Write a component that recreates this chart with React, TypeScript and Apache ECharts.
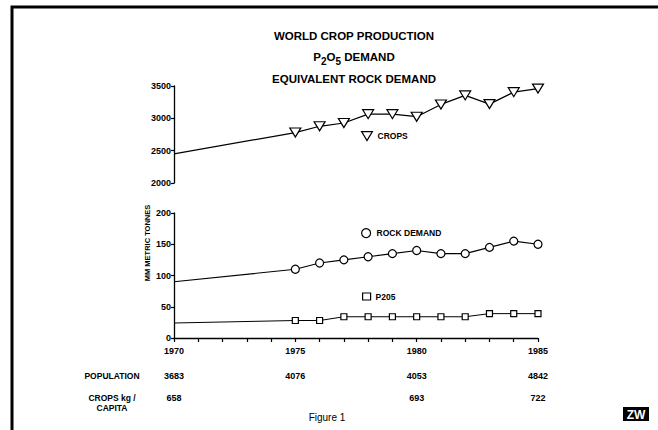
import React, { useEffect, useRef } from "react";
import * as echarts from "echarts";

const years = [1970, 1975, 1976, 1977, 1978, 1979, 1980, 1981, 1982, 1983, 1984, 1985];
const crops = [2450, 2780, 2877, 2928, 3065, 3065, 3025, 3215, 3355, 3220, 3405, 3460];
const rockDemand = [90, 110, 120, 125, 130, 135, 140, 135, 135, 145, 155, 150];
const p205 = [24, 28, 28, 34, 34, 34, 34, 34, 34, 39, 39, 39];

const upperTicks = { min: 2000, max: 3500, interval: 500 };
const lowerTicks = { min: 0, max: 200, interval: 50 };
const xRange = { min: 1970, max: 1985 };

const populationYears = [1970, 1975, 1980, 1985];
const population = [3683, 4076, 4053, 4842];
const cropsPerCapitaYears = [1970, 1980, 1985];
const cropsPerCapita = [658, 693, 722];

const TRI = "path://M0,0L12,0L6,10Z";
const FONT = "'Liberation Sans', Arial, sans-serif";

function toData(vals: number[]) {
  return years.map((y, i) =>
    i === 0 ? { value: [y, vals[i]], symbol: "none" } : { value: [y, vals[i]] }
  );
}

export default function App() {
  const ref = useRef<HTMLDivElement>(null);
  useEffect(() => {
    document.body.style.margin = "0";
    const chart = echarts.init(ref.current!, null, { renderer: "svg" });
    const axisCommon = {
      axisLine: { show: true, lineStyle: { color: "#000", width: 1.3 } },
      axisTick: { show: true, inside: false, length: 3, lineStyle: { color: "#000", width: 1.2 } },
      splitLine: { show: false },
      axisLabel: {
        color: "#000",
        fontSize: 9,
        fontWeight: "bold",
        fontFamily: FONT,
        margin: 3,
        formatter: (v: number) => String(v),
      },
    };
    const itemStyle = { color: "#fff", borderColor: "#000", borderWidth: 1.2 };
    const lineStyle = { color: "#000", width: 1.2 };
    const legendCommon = {
      orient: "horizontal",
      padding: 0,
      itemWidth: 11,
      itemHeight: 9,
      itemGap: 4,
      selectedMode: false,
      textStyle: { color: "#000", fontSize: 8.5, fontWeight: "bold", fontFamily: FONT },
      itemStyle: { color: "#fff", borderColor: "#000", borderWidth: 1.2 },
      lineStyle: { width: 0 },
    };
    chart.setOption({
      animation: false,
      backgroundColor: "#fff",
      grid: [
        { left: 174, right: 120, top: 86, height: 97 },
        { left: 174, right: 120, top: 213, height: 125 },
      ],
      xAxis: [
        { type: "value", gridIndex: 0, min: xRange.min, max: xRange.max, interval: 1, show: false },
        {
          type: "value",
          gridIndex: 1,
          min: xRange.min,
          max: xRange.max,
          interval: 1,
          ...axisCommon,
          axisTick: { show: true, length: 4, lineStyle: { color: "#000", width: 1.2 } },
          axisLabel: {
            ...axisCommon.axisLabel,
            margin: 8,
            formatter: (v: number) => (v % 5 === 0 ? String(v) : ""),
          },
        },
      ],
      yAxis: [
        { type: "value", gridIndex: 0, ...upperTicks, ...axisCommon },
        { type: "value", gridIndex: 1, ...lowerTicks, ...axisCommon },
      ],
      legend: [
        { ...legendCommon, left: 361, top: 131, data: [{ name: "CROPS", icon: TRI }] },
        { ...legendCommon, left: 361, top: 228, data: [{ name: "ROCK DEMAND", icon: "circle" }] },
        { ...legendCommon, left: 362, top: 292, itemWidth: 8, itemHeight: 7, data: [{ name: "P205", icon: "rect" }] },
      ],
      series: [
        {
          name: "CROPS",
          type: "line",
          xAxisIndex: 0,
          yAxisIndex: 0,
          data: toData(crops),
          symbol: TRI,
          symbolSize: [11, 9],
          symbolKeepAspect: false,
          itemStyle,
          lineStyle,
        },
        {
          name: "ROCK DEMAND",
          type: "line",
          xAxisIndex: 1,
          yAxisIndex: 1,
          data: toData(rockDemand),
          symbol: "circle",
          symbolSize: 8,
          itemStyle,
          lineStyle,
        },
        {
          name: "P205",
          type: "line",
          xAxisIndex: 1,
          yAxisIndex: 1,
          data: toData(p205),
          symbol: "rect",
          symbolSize: 6,
          itemStyle,
          lineStyle: { color: "#000", width: 1 },
        },
      ],
    });

    const px = (y: number) => chart.convertToPixel({ xAxisIndex: 1 }, y) as number;
    const textStyle = (t: string, x: number, y: number, extra: any = {}) => ({
      type: "text",
      x,
      y,
      style: {
        text: t,
        fill: "#000",
        font: `bold 9px ${FONT}`,
        align: "center",
        verticalAlign: "middle",
        ...extra,
      },
    });
    const graphics: any[] = [
      { type: "rect", shape: { x: 12, y: 7, width: 700, height: 500 }, style: { fill: "none", stroke: "#000", lineWidth: 3 } },
      textStyle("WORLD CROP PRODUCTION", 354, 36, { font: `bold 11.5px ${FONT}` }),
      {
        type: "text",
        x: 354,
        y: 57,
        style: {
          text: "{a|P}{s|2}{a|O}{s|5}{a| DEMAND}",
          align: "center",
          verticalAlign: "middle",
          rich: {
            a: { fill: "#000", font: `bold 11.5px ${FONT}`, lineHeight: 18, verticalAlign: "middle" },
            s: { fill: "#000", font: `bold 10px ${FONT}`, lineHeight: 18, verticalAlign: "bottom" },
          },
        },
      },
      textStyle("EQUIVALENT ROCK DEMAND", 354, 79, { font: `bold 11.5px ${FONT}` }),
      { type: "text", x: 147, y: 243, rotation: Math.PI / 2, style: { text: "MM METRIC TONNES", fill: "#000", font: `bold 7.5px ${FONT}`, align: "center", verticalAlign: "middle" } },
      textStyle("POPULATION", 112, 376, { font: `bold 8.5px ${FONT}` }),
      textStyle("CROPS kg /", 112, 398, { font: `bold 8.5px ${FONT}` }),
      textStyle("CAPITA", 112, 408, { font: `bold 8.5px ${FONT}` }),
      textStyle("Figure 1", 327, 417, { font: `10px ${FONT}` }),
      { type: "rect", shape: { x: 623, y: 407, width: 26, height: 14 }, style: { fill: "#000" } },
      textStyle("ZW", 636, 414.5, { fill: "#fff", font: `bold 12px ${FONT}` }),
    ];
    populationYears.forEach((y, i) => graphics.push(textStyle(String(population[i]), px(y), 376)));
    cropsPerCapitaYears.forEach((y, i) => graphics.push(textStyle(String(cropsPerCapita[i]), px(y), 398)));
    chart.setOption({ graphic: graphics });

    return () => chart.dispose();
  }, []);
  return <div ref={ref} style={{ width: 658, height: 430 }} />;
}
